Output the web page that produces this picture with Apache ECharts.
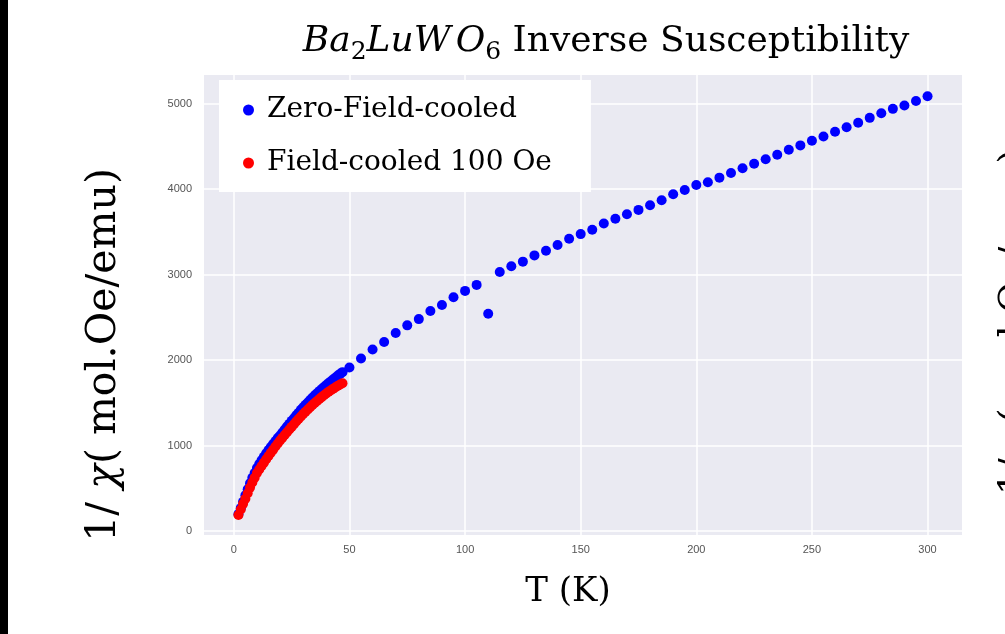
<!DOCTYPE html>
<html><head><meta charset="utf-8">
<script src="https://cdn.jsdelivr.net/npm/echarts@6/dist/echarts.min.js"></script>
<style>html,body{margin:0;padding:0;background:#fff}#c{width:1005px;height:634px}</style>
</head><body><div id="c"></div>
<script>
// Zero-field-cooled (blue)
const zfcT = [2,3,4,5,6,7,8,9,10,11,12,13,14,15,16,17,18,19,20,21,22,23,24,25,26,27,28,29,30,31,32,33,34,35,36,37,38,39,40,41,42,43,44,45,46,47,
  50,55,60,65,70,75,80,85,90,95,100,105,110,115,120,125,130,135,140,145,150,155,160,165,170,175,180,185,190,195,200,205,210,215,220,225,230,235,240,245,250,255,260,265,270,275,280,285,290,295,300];
const zfcV = [200,270,345,420,490,560,625,680,740,785,830,870,910,950,985,1020,1055,1090,1120,1155,1190,1225,1255,1290,1320,1355,1385,1420,1450,1478,1506,1534,1562,1590,1614,1638,1662,1686,1710,1732,1754,1776,1798,1820,1840,1860,
  1915,2020,2124,2213,2317,2407,2480,2575,2645,2735,2810,2880,2542,3031,3097,3152,3225,3280,3346,3420,3474,3524,3598,3653,3707,3757,3812,3870,3940,3990,4049,4080,4134,4188,4243,4297,4348,4402,4460,4511,4565,4616,4670,4724,4775,4833,4887,4938,4977,5031,5085];
// Field-cooled 100 Oe (red)
const fcT = [2,3,4,5,6,7,8,9,10,11,12,13,14,15,16,17,18,19,20,21,22,23,24,25,26,27,28,29,30,31,32,33,34,35,36,37,38,39,40,41,42,43,44,45,46,47];
const fcV = [190,255,320,380,445,510,570,625,680,722,762,802,842,880,917,953,990,1025,1060,1093,1126,1158,1190,1220,1251,1282,1312,1342,1370,1397,1424,1450,1476,1500,1523,1546,1568,1590,1610,1630,1649,1667,1684,1700,1716,1730];
const xTicks = [0,50,100,150,200,250,300];
const yTicks = [0,1000,2000,3000,4000,5000];
const seriesNames = ['Zero-Field-cooled','Field-cooled 100 Oe'];

const chart = echarts.init(document.getElementById('c'));
const serif = 'DejaVu Serif';
chart.setOption({
  backgroundColor: '#ffffff',
  animation: false,
  title: {
    left: 601, top: 14, textAlign: 'center',
    text: '{i|Ba}{s|2}{i|LuW}{o|O}{s|6}{n| Inverse Susceptibility}',
    textStyle: {
      fontWeight: 'normal',
      rich: {
        i: {fontFamily: serif, fontStyle: 'italic', fontWeight: 'normal', fontSize: 36, color: '#000', lineHeight: 46},
        o: {fontFamily: serif, fontStyle: 'italic', fontWeight: 'normal', fontSize: 36, color: '#000', lineHeight: 46, padding: [0,0,0,5]},
        s: {fontFamily: serif, fontWeight: 'normal', fontSize: 25, color: '#000', verticalAlign: 'bottom', lineHeight: 22},
        n: {fontFamily: serif, fontWeight: 'normal', fontSize: 36, color: '#000', lineHeight: 46}
      }
    }
  },
  legend: {
    data: seriesNames,
    orient: 'vertical',
    left: 219, top: 80,
    backgroundColor: '#ffffff',
    padding: [14, 39, 13, 24],
    itemGap: 21,
    itemWidth: 11, itemHeight: 11,
    icon: 'circle',
    textStyle: {fontFamily: serif, fontSize: 28, lineHeight: 32, color: '#000', padding: [0,0,0,8]}
  },
  grid: {left: 204, right: 43, top: 75, bottom: 99, show: true, backgroundColor: '#EAEAF2', borderWidth: 0},
  xAxis: {
    type: 'value', min: -12.9, max: 314.9,
    name: 'T (K)', nameLocation: 'middle', nameGap: 40,
    nameTextStyle: {fontFamily: serif, fontSize: 34, color: '#000', padding: [0, 30, 0, 0]},
    axisLine: {show: false},
    axisTick: {show: false, customValues: xTicks},
    axisLabel: {customValues: xTicks, color: '#555', fontSize: 11, fontFamily: 'Liberation Sans', margin: 9,
      formatter: v => String(v)},
    splitLine: {show: true, lineStyle: {color: '#ffffff', width: 1.5}}
  },
  yAxis: {
    type: 'value', min: -44, max: 5334,
    name: '1/ {i|χ}( mol.Oe/emu)', nameLocation: 'middle', nameGap: 79,
    nameTextStyle: {fontFamily: serif, fontSize: 41, color: '#000', padding: [0, 100, 0, 0],
      rich: {i: {fontFamily: serif, fontStyle: 'italic', fontSize: 41, color: '#000'}}},
    axisLine: {show: false},
    axisTick: {show: false, customValues: yTicks},
    axisLabel: {customValues: yTicks, color: '#555', fontSize: 11, fontFamily: 'Liberation Sans', margin: 12,
      formatter: v => String(v)},
    splitLine: {show: true, lineStyle: {color: '#ffffff', width: 1.5}}
  },
  graphic: [
    {type: 'rect', left: 0, top: 0, shape: {width: 8, height: 634}, style: {fill: '#000'}, z: 100},
    {type: 'text', x: 1015, y: 322, rotation: Math.PI/2,
     style: {text: '1/ χ( mol.Oe/emu)', font: '38px "DejaVu Serif"', fill: '#000', align: 'center', verticalAlign: 'middle'}}
  ],
  series: [
    {name: seriesNames[0], type: 'scatter', symbolSize: 10, itemStyle: {color: '#0000ff', opacity: 1},
     data: zfcT.map((t, i) => [t, zfcV[i]])},
    {name: seriesNames[1], type: 'scatter', symbolSize: 10, itemStyle: {color: '#ff0000', opacity: 1},
     data: fcT.map((t, i) => [t, fcV[i]])}
  ]
});
</script></body></html>
